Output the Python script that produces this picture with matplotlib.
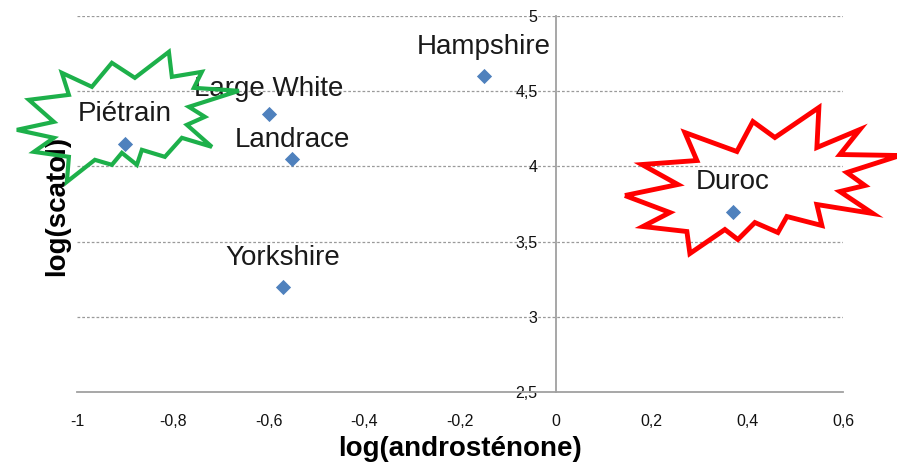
import matplotlib
matplotlib.use('Agg')
import matplotlib.pyplot as plt
import matplotlib.transforms as mtransforms
from matplotlib.patches import Polygon
import numpy as np

# races et valeurs
races = ['Piétrain', 'Large White', 'Landrace', 'Hampshire', 'Yorkshire', 'Duroc']
log_andro = [-0.90, -0.60, -0.55, -0.15, -0.57, 0.37]
log_scatol = [4.15, 4.35, 4.05, 4.60, 3.20, 3.70]

xticks = [-1, -0.8, -0.6, -0.4, -0.2, 0, 0.2, 0.4, 0.6]
yticks = [2.5, 3, 3.5, 4, 4.5, 5]

def virgule(v):
    s = ('%g' % v).replace('.', ',')
    return s

# decalage vertical des etiquettes (pixels)
label_dy = [23, 18, 12, 22, 22, 23]

# contours des "explosions" en pixels autour du point (y vers le bas)
star_green = [(15, 130), (52, 122), (27, 100), (67, 95), (60, 73), (90, 87), (110, 63),
              (133, 78), (167, 52), (170, 77), (200, 72), (192, 88), (237, 91), (187, 107),
              (203, 117), (185, 125), (210, 147), (180, 138), (163, 157), (140, 150),
              (135, 165), (120, 153), (110, 165), (93, 160), (65, 182), (67, 157),
              (32, 152), (52, 138)]
star_red = [(625, 196), (678, 185), (642, 165), (697, 161), (685, 133), (737, 152),
            (753, 122), (775, 138), (819, 108), (817, 148), (860, 130), (840, 155),
            (900, 156), (847, 173), (865, 186), (840, 192), (873, 214), (817, 205),
            (822, 226), (787, 217), (778, 233), (755, 223), (738, 240), (725, 230),
            (690, 254), (687, 232), (643, 227), (670, 213)]

fig = plt.figure(figsize=(8.97, 4.69), dpi=100, facecolor='white')
ax = fig.add_axes([77/897, 1-392/469, 766/897, 376/469])

ax.set_xlim(-1, 0.6)
ax.set_ylim(2.5, 5)

for y in yticks[1:]:
    ax.axhline(y, color='#9a9a9a', lw=0.9, ls=(0, (2.2, 1.6)), zorder=1)

ax.scatter(log_andro, log_scatol, marker='D', s=60, color='#4F81BD', zorder=3, linewidths=0)

for name, x, y, dy in zip(races, log_andro, log_scatol, label_dy):
    ax.annotate(name, (x, y), xytext=(0, dy * 0.72), textcoords='offset points',
                ha='center', va='baseline', fontsize=20, family='Liberation Sans',
                color='#1a1a1a', zorder=4)

# explosions
anchors = [(0, star_green, '#1DB04A', 3.0), (5, star_red, '#FF0000', 3.5)]
px_ref = {0: (123, 144), 5: (733, 212)}
for i, pts, col, lw in anchors:
    cx, cy = px_ref[i]
    rel = np.array([(px - cx, py - cy) for px, py in pts], dtype=float)
    tr = mtransforms.Affine2D().scale(1, -1) + mtransforms.ScaledTranslation(
        log_andro[i], log_scatol[i], ax.transData)
    poly = Polygon(rel, closed=True, fill=False, edgecolor=col, lw=lw,
                   joinstyle='miter', transform=tr, clip_on=False, zorder=5)
    ax.add_patch(poly)

for s in ['top', 'right']:
    ax.spines[s].set_visible(False)
ax.spines['left'].set_position(('data', 0))
ax.spines['left'].set_color('#a0a0a0')
ax.spines['bottom'].set_color('#a0a0a0')
ax.spines['left'].set_linewidth(1.3)
ax.spines['bottom'].set_linewidth(1.3)

ax.set_xticks(xticks)
ax.set_xticklabels([virgule(v) for v in xticks])
ax.set_yticks(yticks)
ax.set_yticklabels([virgule(v) for v in yticks])
ax.tick_params(axis='both', length=0, labelsize=11.5, labelcolor='#111111')
ax.tick_params(axis='x', pad=16)
ax.tick_params(axis='y', pad=13)
for lab in ax.get_xticklabels() + ax.get_yticklabels():
    lab.set_family('Liberation Sans')

ax.set_xlabel('log(androsténone)', fontsize=20, fontweight='bold', family='Liberation Sans')
ax.set_ylabel('log(scatol)', fontsize=20, fontweight='bold', family='Liberation Sans')
ax.xaxis.set_label_coords(0.5, -0.118)
ax.yaxis.set_label_coords(-0.009, 0.495)

fig.savefig('out.png', dpi=100, facecolor='white')
